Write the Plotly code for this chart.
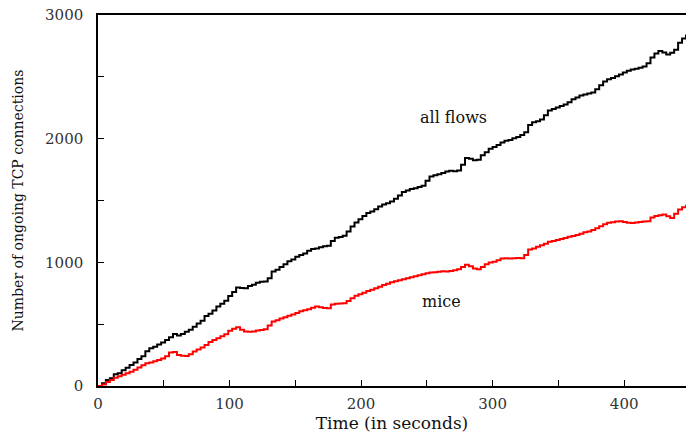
import plotly.graph_objects as go

time_s = list(range(0, 448, 3))

all_flows = [0, 22, 48, 62, 95, 104, 128, 148, 170, 190, 218, 240, 282, 305, 318, 336, 352, 372, 395, 421,
             408, 420, 438, 455, 480, 505, 528, 566, 585, 611, 642, 665, 690, 728, 760, 796, 792, 791, 808, 818,
             835, 842, 846, 872, 926, 940, 962, 985, 1008, 1022, 1045, 1060, 1072, 1094, 1107, 1112, 1121, 1130, 1134, 1172,
             1198, 1205, 1215, 1250, 1290, 1322, 1348, 1375, 1398, 1412, 1430, 1452, 1468, 1478, 1492, 1515, 1540, 1568, 1580, 1592,
             1600, 1610, 1620, 1660, 1695, 1704, 1712, 1722, 1734, 1740, 1736, 1742, 1790, 1844, 1838, 1826, 1830, 1865, 1890, 1918,
             1932, 1948, 1970, 1984, 1990, 2004, 2014, 2030, 2052, 2110, 2132, 2140, 2154, 2190, 2228, 2240, 2252, 2265, 2276, 2295,
             2318, 2332, 2349, 2358, 2366, 2374, 2400, 2432, 2462, 2480, 2490, 2504, 2518, 2535, 2550, 2560, 2566, 2574, 2584, 2610,
             2656, 2688, 2708, 2696, 2681, 2694, 2720, 2776, 2810, 2843]

mice = [0, 12, 32, 48, 66, 78, 90, 104, 116, 132, 150, 168, 184, 190, 200, 210, 222, 240, 270, 274,
        251, 244, 243, 256, 278, 296, 312, 332, 355, 372, 386, 402, 418, 446, 462, 476, 454, 440, 438, 440,
        448, 452, 458, 490, 521, 532, 546, 556, 568, 578, 590, 604, 612, 621, 632, 642, 636, 630, 629, 660,
        666, 668, 670, 688, 710, 730, 742, 754, 768, 778, 790, 802, 816, 826, 838, 848, 856, 864, 872, 880,
        888, 896, 904, 912, 918, 920, 924, 928, 926, 930, 936, 944, 962, 980, 968, 950, 945, 962, 984, 998,
        1004, 1016, 1030, 1034, 1032, 1034, 1036, 1034, 1060, 1104, 1112, 1126, 1138, 1150, 1166, 1172, 1180, 1188, 1196, 1206,
        1212, 1222, 1232, 1244, 1250, 1262, 1276, 1292, 1308, 1320, 1324, 1330, 1332, 1326, 1320, 1318, 1322, 1326, 1330, 1332,
        1362, 1374, 1380, 1386, 1372, 1358, 1392, 1428, 1446, 1466]

x_ticks = [0, 100, 200, 300, 400]
y_ticks = [0, 1000, 2000, 3000]

FONT = "DejaVu Serif"

fig = go.Figure()
fig.add_trace(go.Scatter(x=time_s, y=all_flows, mode="lines", line=dict(color="black", width=2, shape="hv"), name="all flows"))
fig.add_trace(go.Scatter(x=time_s, y=mice, mode="lines", line=dict(color="#ff0000", width=2, shape="hv"), name="mice"))

fig.add_annotation(x=270, y=2171, text="all flows", showarrow=False, font=dict(family=FONT, size=16, color="#111"))
fig.add_annotation(x=261, y=680, text="mice", showarrow=False, font=dict(family=FONT, size=16, color="#111"))

fig.update_layout(
    width=686, height=433,
    margin=dict(l=98, r=0, t=15, b=47),
    paper_bgcolor="white", plot_bgcolor="white",
    showlegend=False,
    font=dict(family=FONT, color="#333", size=15),
)
fig.update_xaxes(
    range=[0, 447], tickvals=x_ticks, showgrid=False, zeroline=False,
    showline=True, linecolor="black", linewidth=1.5, mirror=True,
    ticks="inside", ticklen=6, tickcolor="black",
    minor=dict(dtick=50, ticks="inside", ticklen=6, tickcolor="black", showgrid=False),
    ticklabelstandoff=3,
    title=dict(text="Time (in seconds)", font=dict(family=FONT, size=17, color="#111"), standoff=0),
)
fig.update_yaxes(
    range=[0, 3000], tickvals=y_ticks, showgrid=False, zeroline=False,
    showline=True, linecolor="black", linewidth=1.5,
    ticks="inside", ticklen=6, tickcolor="black",
    minor=dict(dtick=500, ticks="inside", ticklen=6, tickcolor="black", showgrid=False),
    ticklabelstandoff=10,
    title=dict(text="Number of ongoing TCP connections", font=dict(family=FONT, size=14, color="#111"), standoff=18),
)

fig.write_html("out.html")
